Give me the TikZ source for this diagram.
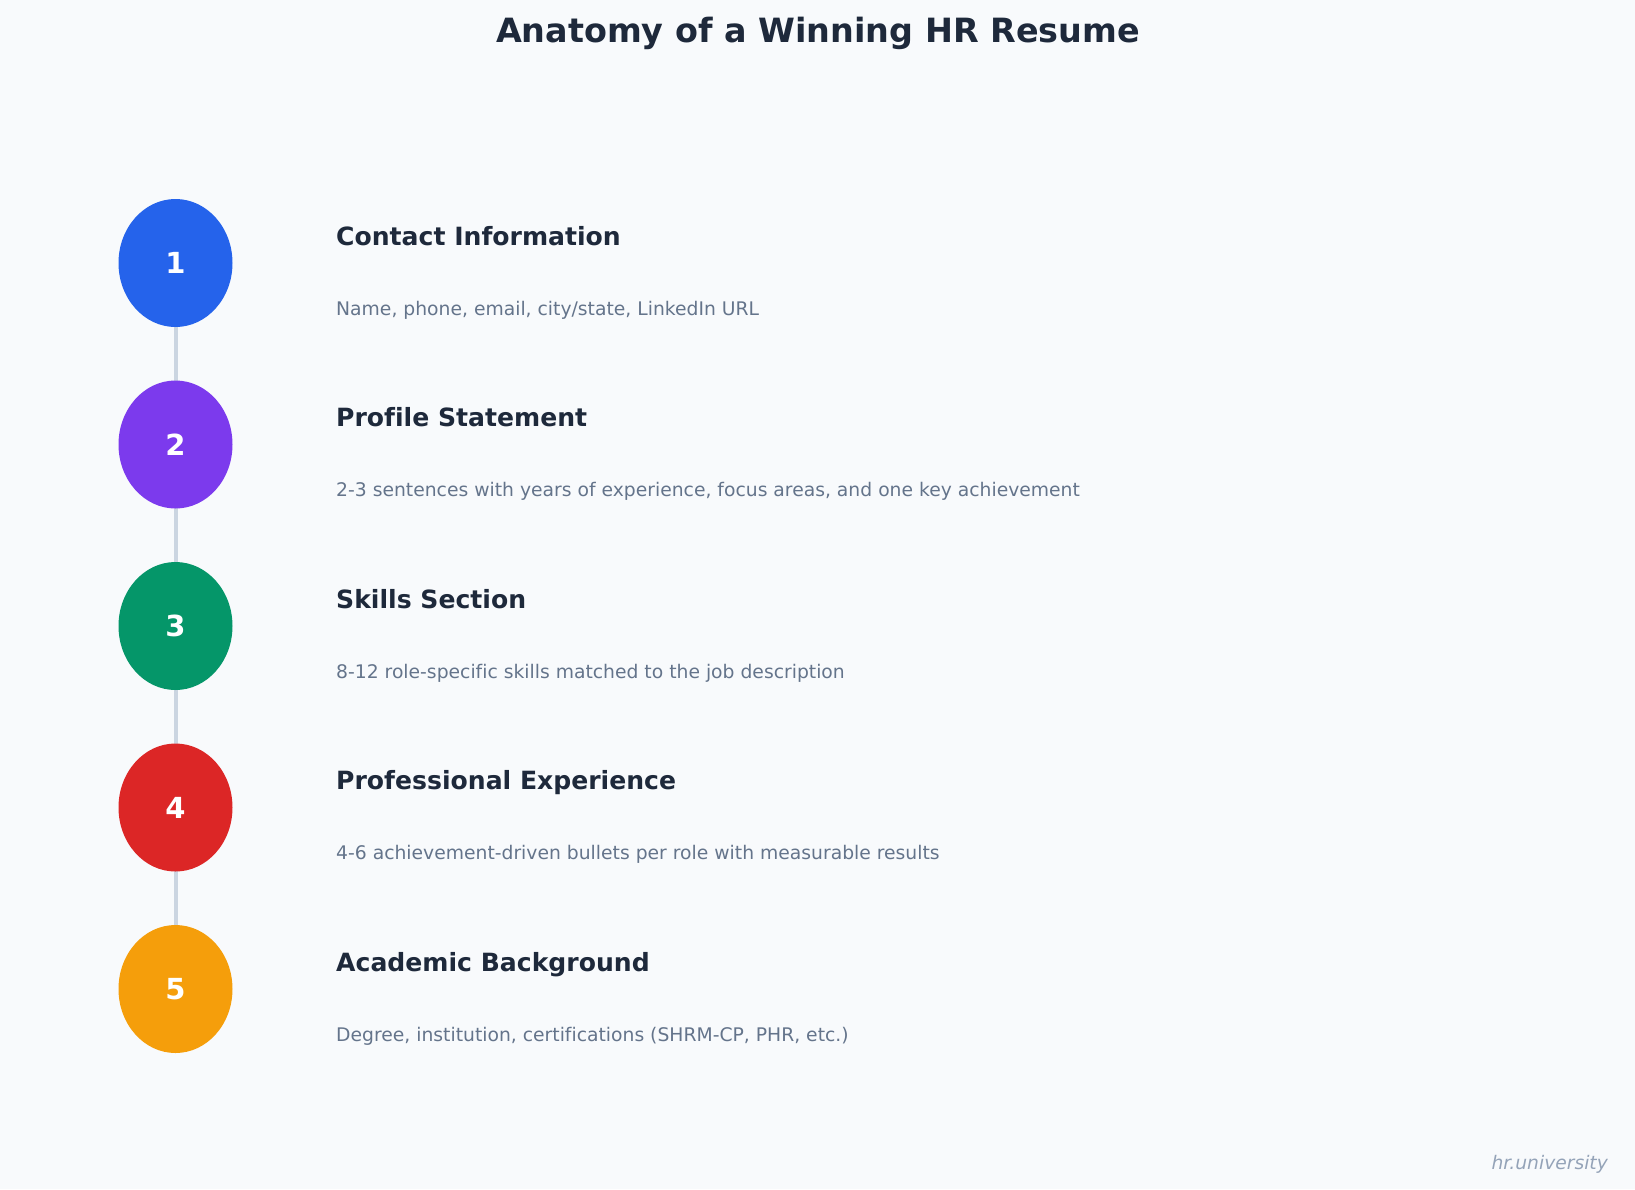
\documentclass[tikz,border=0pt]{standalone}
\usepackage{fontspec}
\setmainfont[Ligatures=NoCommon]{DejaVu Sans}
\usetikzlibrary{shapes.geometric}
\definecolor{bgc}{HTML}{F8FAFC}
\definecolor{titlec}{HTML}{1E293B}
\definecolor{descc}{HTML}{64748B}
\definecolor{linec}{HTML}{CBD5E1}
\definecolor{markc}{HTML}{94A3B8}
\definecolor{cA}{HTML}{2563EB}
\definecolor{cB}{HTML}{7C3AED}
\definecolor{cC}{HTML}{059669}
\definecolor{cD}{HTML}{DC2626}
\definecolor{cE}{HTML}{F59E0B}
\tikzset{
  stepdot/.style={ellipse, minimum width=114pt, minimum height=128pt, inner sep=0pt, text=white, font=\fontsize{29}{33}\selectfont\bfseries},
  headtxt/.style={anchor=base west, inner sep=0pt, text=titlec, font=\fontsize{25.1}{29}\selectfont\bfseries},
  desctxt/.style={anchor=base west, inner sep=0pt, text=descc, font=\fontsize{18.75}{22}\selectfont},
  joinline/.style={draw=linec, line width=4pt}
}
\begin{document}
\begin{tikzpicture}[x=1pt,y=-1pt]
\fill[bgc] (0,0) rectangle (1635,1189);
\useasboundingbox (0,0) rectangle (1635,1189);
\node[anchor=base, inner sep=0pt, text=titlec, font=\fontsize{33.4}{38}\selectfont\bfseries] (title) at (818,42) {Anatomy of a Winning HR Resume};
\coordinate (p1) at (175.5,263);
\coordinate (p2) at (175.5,444.5);
\coordinate (p3) at (175.5,626);
\coordinate (p4) at (175.5,807.5);
\coordinate (p5) at (175.5,989);
\draw[joinline] (p1) -- (p2) -- (p3) -- (p4) -- (p5);
\node[stepdot, fill=cA] (n1) at (p1) {1};
\node[stepdot, fill=cB] (n2) at (p2) {2};
\node[stepdot, fill=cC] (n3) at (p3) {3};
\node[stepdot, fill=cD] (n4) at (p4) {4};
\node[stepdot, fill=cE] (n5) at (p5) {5};
\node[headtxt] (h1) at (336,245) {Contact Information};
\node[desctxt] (d1) at (336,315) {Name, phone, email, city/state, LinkedIn URL};
\node[headtxt] (h2) at (336,426.5) {Profile Statement};
\node[desctxt] (d2) at (336,496.5) {2-3 sentences with years of experience, focus areas, and one key achievement};
\node[headtxt] (h3) at (336,608) {Skills Section};
\node[desctxt] (d3) at (336,678) {8-12 role-specific skills matched to the job description};
\node[headtxt] (h4) at (336,789.5) {Professional Experience};
\node[desctxt] (d4) at (336,859.5) {4-6 achievement-driven bullets per role with measurable results};
\node[headtxt] (h5) at (336,971) {Academic Background};
\node[desctxt] (d5) at (336,1041) {Degree, institution, certifications (SHRM-CP, PHR, etc.)};
\node[anchor=base east, inner sep=0pt, text=markc, font=\fontsize{18.7}{22}\selectfont\itshape] (wm) at (1608,1169) {hr.university};
\end{tikzpicture}
\end{document}
